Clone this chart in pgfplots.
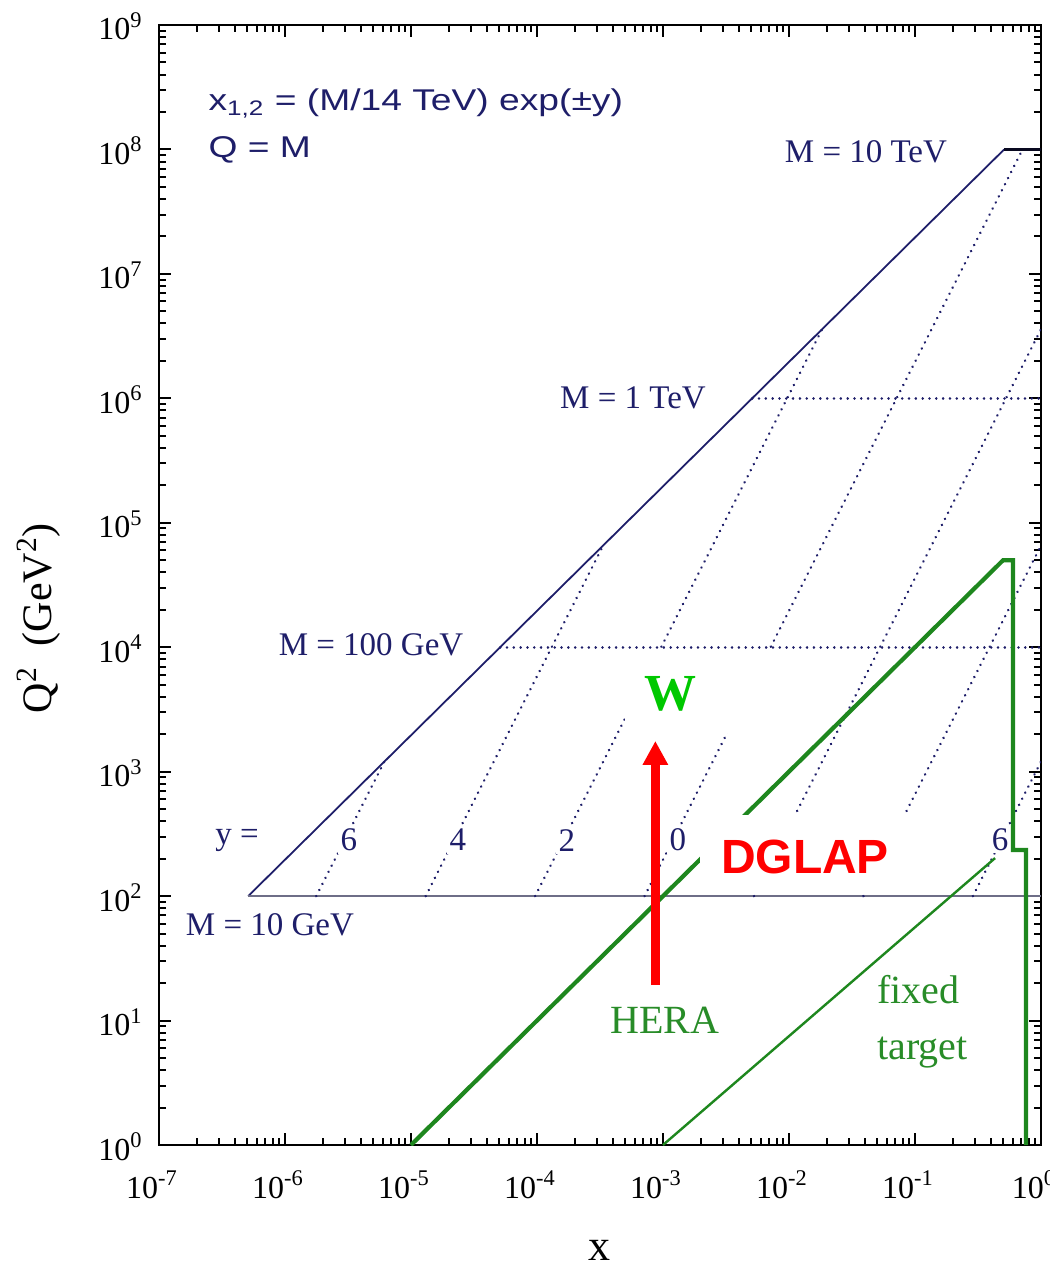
\documentclass[border=0pt]{standalone}
\usepackage{fontspec}
\setmainfont{Liberation Serif}
\setsansfont{Liberation Sans}
\usepackage{pgfplots}
\pgfplotsset{compat=1.18}
\usetikzlibrary{arrows.meta}
\definecolor{navy}{RGB}{30,30,105}
\definecolor{hgreen}{RGB}{30,135,30}
\definecolor{tgreen}{RGB}{40,140,40}
\definecolor{wgreen}{RGB}{0,200,0}
\definecolor{slate}{RGB}{110,110,135}
\begin{document}
\begin{tikzpicture}
\begin{axis}[
  xmode=log, ymode=log,
  scale only axis, width=441pt, height=560pt,
  xmin=1e-7, xmax=1, ymin=1, ymax=1e9,
  xtick={1e-7,1e-6,1e-5,1e-4,1e-3,1e-2,1e-1,1},
  xticklabels={10\textsuperscript{-7},10\textsuperscript{-6},10\textsuperscript{-5},10\textsuperscript{-4},10\textsuperscript{-3},10\textsuperscript{-2},10\textsuperscript{-1},10\textsuperscript{0}},
  minor xtick={2e-7,3e-7,4e-7,5e-7,6e-7,7e-7,8e-7,9e-7,2e-6,3e-6,4e-6,5e-6,6e-6,7e-6,8e-6,9e-6,2e-5,3e-5,4e-5,5e-5,6e-5,7e-5,8e-5,9e-5,2e-4,3e-4,4e-4,5e-4,6e-4,7e-4,8e-4,9e-4,2e-3,3e-3,4e-3,5e-3,6e-3,7e-3,8e-3,9e-3,2e-2,3e-2,4e-2,5e-2,6e-2,7e-2,8e-2,9e-2,2e-1,3e-1,4e-1,5e-1,6e-1,7e-1,8e-1,9e-1},
  ytick={1,10,100,1e3,1e4,1e5,1e6,1e7,1e8,1e9},
  yticklabels={10\textsuperscript{0},10\textsuperscript{1},10\textsuperscript{2},10\textsuperscript{3},10\textsuperscript{4},10\textsuperscript{5},10\textsuperscript{6},10\textsuperscript{7},10\textsuperscript{8},10\textsuperscript{9}},
  minor ytick={2,3,4,5,6,7,8,9,20,30,40,50,60,70,80,90,200,300,400,500,600,700,800,900,2e3,3e3,4e3,5e3,6e3,7e3,8e3,9e3,2e4,3e4,4e4,5e4,6e4,7e4,8e4,9e4,2e5,3e5,4e5,5e5,6e5,7e5,8e5,9e5,2e6,3e6,4e6,5e6,6e6,7e6,8e6,9e6,2e7,3e7,4e7,5e7,6e7,7e7,8e7,9e7,2e8,3e8,4e8,5e8,6e8,7e8,8e8,9e8},
  axis line style={line width=1.3pt, black},
  major tick length=6pt, minor tick length=3.5pt,
  every tick/.append style={line width=1pt, black},
  xticklabel style={font=\fontsize{16}{19}\selectfont, anchor=base, inner sep=0pt, yshift=-26.5pt, xshift=-3.5pt},
  yticklabel style={font=\fontsize{16}{19}\selectfont, anchor=base east, inner sep=0pt, xshift=-8pt, yshift=-7.5pt},
  xlabel={x},
  xlabel style={font=\fontsize{22}{26}\selectfont, at={(rel axis cs:0.5,-0.094)}, anchor=center},
  ylabel={Q\textsuperscript{2}\ \ (GeV\textsuperscript{2})},
  ylabel style={font=\fontsize{21}{25}\selectfont, at={(rel axis cs:-0.136,0.4705)}, anchor=center},
  dotline/.style={navy, line width=1.35pt, line cap=round, dash pattern=on 0.01pt off 3.4pt},
]
% M = Q lines
\addplot[navy, line width=0.9pt] coordinates {(5.102e-7,100) (0.5102,1e8)};
\addplot[black!70!navy, line width=1.3pt] coordinates {(0.5102,1e8) (1,1e8)};
\addplot[slate, line width=1pt] coordinates {(5.102e-7,100) (1,100)};
\addplot[dotline] coordinates {(5.102e-5,1e4) (1,1e4)};
\addplot[dotline] coordinates {(5.102e-3,1e6) (1,1e6)};
% constant rapidity lines
\addplot[dotline] coordinates {(1.7706e-6,100) (6.144e-6,1204.3)};
\addplot[dotline] coordinates {(1.3083e-5,100) (3.3546e-4,65751)};
\addplot[dotline] coordinates {(9.667e-5,100) (0.018316,3.5899e6)};
\addplot[dotline] coordinates {(7.1429e-4,100) (0.71429,1e8)};
\addplot[dotline] coordinates {(5.2779e-3,100) (1,3.5899e6)};
\addplot[dotline] coordinates {(0.038999,100) (1,65751)};
\addplot[dotline] coordinates {(0.28816,100) (1,1204.3)};
% HERA and fixed target
\addplot[hgreen, line width=2.1pt, line join=miter] coordinates {(1e-5,1) (0.5,5e4) (0.6,5e4) (0.6,235) (0.76,235) (0.76,1)};
\addplot[hgreen, line width=1.2pt] coordinates {(1e-3,1) (0.432,202)};
% white patches behind labels
\fill[white] (axis cs:4.99e-4,2046) rectangle (axis cs:9.29e-3,9500);
\fill[white] (axis cs:1.97e-3,106) rectangle (axis cs:0.0912,448);
% arrow
\addplot[red, line width=4.5pt, -{Triangle[width=12pt,length=12pt]}] coordinates {(8.7e-4,19.3) (8.7e-4,1765)};
% labels
\node[navy, font=\sffamily\fontsize{15}{18}\selectfont, anchor=base west, inner sep=0pt, xscale=1.24] at (axis cs:2.45e-7,2.04e8) {x\textsubscript{1,2} = (M/14 TeV) exp(±y)};
\node[navy, font=\sffamily\fontsize{15}{18}\selectfont, anchor=base west, inner sep=0pt, xscale=1.24] at (axis cs:2.45e-7,8.55e7) {Q = M};
\node[navy, font=\fontsize{16.5}{20}\selectfont, inner sep=0pt] at (axis cs:0.0408,9.55e7) {M = 10 TeV};
\node[navy, font=\fontsize{16.5}{20}\selectfont, inner sep=0pt] at (axis cs:5.78e-4,1.006e6) {M = 1 TeV};
\node[navy, font=\fontsize{16.5}{20}\selectfont, inner sep=0pt] at (axis cs:4.82e-6,1.04e4) {M = 100 GeV};
\node[navy, font=\fontsize{16.5}{20}\selectfont, inner sep=0pt] at (axis cs:7.6e-7,58.6) {M = 10 GeV};
\node[navy, font=\fontsize{16.5}{20}\selectfont, inner sep=0pt] at (axis cs:4.16e-7,282) {y =};
\node[navy, font=\fontsize{16.5}{20}\selectfont, fill=white, inner sep=1.5pt] at (axis cs:3.22e-6,282) {6};
\node[navy, font=\fontsize{16.5}{20}\selectfont, fill=white, inner sep=1.5pt] at (axis cs:2.36e-5,282) {4};
\node[navy, font=\fontsize{16.5}{20}\selectfont, fill=white, inner sep=1.5pt] at (axis cs:1.73e-4,282) {2};
\node[navy, font=\fontsize{16.5}{20}\selectfont, fill=white, inner sep=1.5pt] at (axis cs:1.315e-3,282) {0};
\node[navy, font=\fontsize{16.5}{20}\selectfont, fill=white, inner sep=0.8pt] at (axis cs:0.473,282) {6};
\node[wgreen, font=\bfseries\fontsize{26}{30}\selectfont, inner sep=0pt] at (axis cs:1.156e-3,4207) {W};
\node[red, font=\sffamily\bfseries\fontsize{24}{28}\selectfont, inner sep=0pt] at (axis cs:0.0134,206) {DGLAP};
\node[tgreen, font=\fontsize{20}{24}\selectfont, inner sep=0pt] at (axis cs:1.038e-3,10.1) {HERA};
\node[tgreen, font=\fontsize{20}{28}\selectfont, inner sep=0pt, anchor=west, align=left] at (axis cs:0.0499,9.73) {fixed\\target};
\end{axis}
\pgfresetboundingbox
\path[use as bounding box] (-79.5pt,-62.5pt) rectangle (445.5pt,572.5pt);
\end{tikzpicture}
\end{document}
